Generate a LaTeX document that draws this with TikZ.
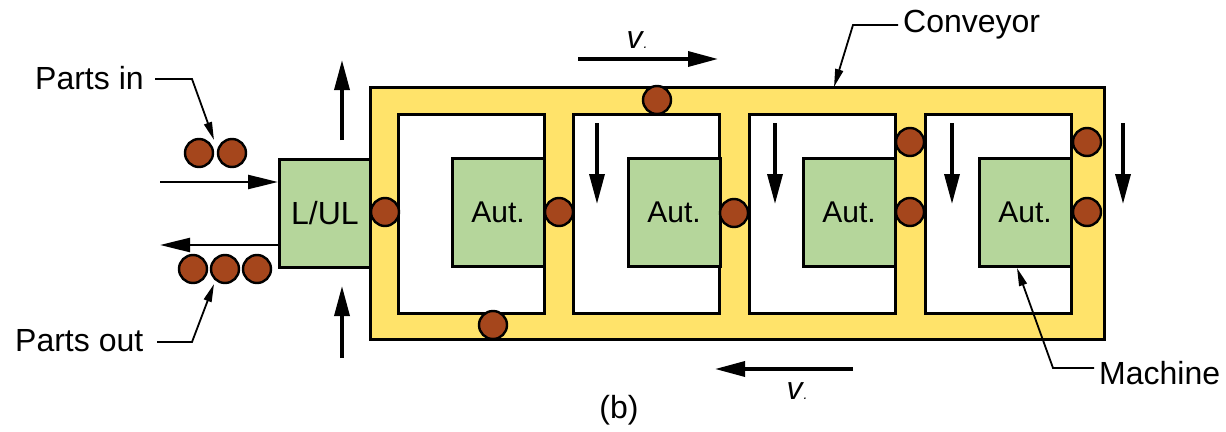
\documentclass[tikz,border=0pt]{standalone}
\usepackage{fontspec}
\setmainfont{Liberation Sans}
\usetikzlibrary{arrows.meta}
\definecolor{convyellow}{HTML}{FFE36A}
\definecolor{machgreen}{HTML}{B5D69B}
\definecolor{partbrown}{HTML}{A5461C}
\begin{document}
\begin{tikzpicture}[x=1pt,y=-1pt,
  txt/.style={font=\fontsize{32}{36}\selectfont, inner sep=0pt},
  convbox/.style={draw, line width=3pt, fill=convyellow, minimum width=734pt, minimum height=252pt, inner sep=0pt},
  framebox/.style={draw, line width=3pt, fill=white, minimum width=146pt, minimum height=199pt, inner sep=0pt},
  machbox/.style={draw, line width=3pt, fill=machgreen, minimum width=92pt, minimum height=108pt, inner sep=0pt, font=\fontsize{30}{34}\selectfont},
  part/.style={circle, draw, line width=2.4pt, fill=partbrown, minimum size=28pt, inner sep=0pt},
  bigarrow/.style={line width=3.4pt, -{Triangle[length=30pt,width=15pt]}},
  thinarrow/.style={line width=2.4pt, -{Triangle[length=30pt,width=14pt]}},
  leader/.style={line width=1.8pt, -{Triangle[length=18pt,width=8pt]}}
]
\useasboundingbox (0,0) rectangle (1226,431);

% conveyor loop
\node[convbox] (conv) at (737,213) {};
\node[framebox] (f1) at (471,213.5) {};
\node[framebox] (f2) at (646.5,213.5) {};
\node[framebox] (f3) at (822.5,213.5) {};
\node[framebox] (f4) at (998.5,213.5) {};

% machines
\node[machbox] (m1) at (498,212) {Aut.};
\node[machbox] (m2) at (674,212) {Aut.};
\node[machbox] (m3) at (849,212) {Aut.};
\node[machbox] (m4) at (1025,212) {Aut.};

% load / unload station
\node[draw, line width=3pt, fill=machgreen, minimum width=91pt, minimum height=108pt, inner sep=0pt, font=\fontsize{32}{36}\selectfont] (lul) at (325,213) {L/UL};

% parts
\node[part] (pin1) at (199,153) {};
\node[part] (pin2) at (232,153) {};
\node[part] (pout1) at (193,269) {};
\node[part] (pout2) at (225,269) {};
\node[part] (pout3) at (257,269) {};
\node[part] (p1) at (385,212) {};
\node[part] (p2) at (657,100) {};
\node[part] (p3) at (493,325) {};
\node[part] (p4) at (559,212) {};
\node[part] (p5) at (734,213) {};
\node[part] (p6) at (910,142) {};
\node[part] (p7) at (910,212) {};
\node[part] (p8) at (1087,142) {};
\node[part] (p9) at (1087,212) {};

% arrow end points
\coordinate (inA) at (160,182);
\coordinate (inB) at (lul.west |- inA);
\coordinate (outA) at (lul.west |- 0,245);
\coordinate (outB) at (160,245);
\coordinate (upA1) at (342,140);
\coordinate (upA2) at (342,60);
\coordinate (upB1) at (342,358);
\coordinate (upB2) at (342,286);
\coordinate (topv1) at (578,59);
\coordinate (topv2) at (718,59);
\coordinate (botv1) at (853,369);
\coordinate (botv2) at (715,369);
\coordinate (d1a) at (597,123);
\coordinate (d1b) at (597,204);
\coordinate (d2a) at (775,123);
\coordinate (d2b) at (775,204);
\coordinate (d3a) at (952,123);
\coordinate (d3b) at (952,204);
\coordinate (d4a) at (1123,123);
\coordinate (d4b) at (1123,204);

\draw[thinarrow] (inA) -- (inB);
\draw[thinarrow] (outA) -- (outB);
\draw[bigarrow] (upA1) -- (upA2);
\draw[bigarrow] (upB1) -- (upB2);
\draw[bigarrow] (topv1) -- (topv2);
\draw[bigarrow] (botv1) -- (botv2);
\draw[bigarrow] (d1a) -- (d1b);
\draw[bigarrow] (d2a) -- (d2b);
\draw[bigarrow] (d3a) -- (d3b);
\draw[bigarrow] (d4a) -- (d4b);

% labels
\node[txt] (vtop) at (637,40) {\itshape v\kern1pt\fontsize{14}{14}\selectfont.};
\node[txt] (vbot) at (797,391) {\itshape v\kern1pt\fontsize{14}{14}\selectfont.};
\node[txt, anchor=west] (lin) at (35,78) {Parts in};
\node[txt, anchor=west] (lout) at (15,341) {Parts out};
\node[txt, anchor=west] (lconv) at (903,25) {Conveyor};
\node[txt, anchor=west] (lmach) at (1099,373) {Machine};
\node[txt] (lb) at (619,410) {(b)};

% leaders
\coordinate (tinA) at (155,79);
\coordinate (tinB) at (192,79);
\coordinate (tinC) at (214,140);
\draw[leader] (tinA) -- (tinB) -- (tinC);
\coordinate (toutA) at (157,342);
\coordinate (toutB) at (192,342);
\coordinate (toutC) at (214,284);
\draw[leader] (toutA) -- (toutB) -- (toutC);
\coordinate (tcA) at (898,25);
\coordinate (tcB) at (853,25);
\coordinate (tcC) at (834,87);
\draw[leader] (tcA) -- (tcB) -- (tcC);
\coordinate (tmA) at (1094,368);
\coordinate (tmB) at (1053,368);
\coordinate (tmC) at (1017,268);
\draw[leader] (tmA) -- (tmB) -- (tmC);
\end{tikzpicture}
\end{document}
